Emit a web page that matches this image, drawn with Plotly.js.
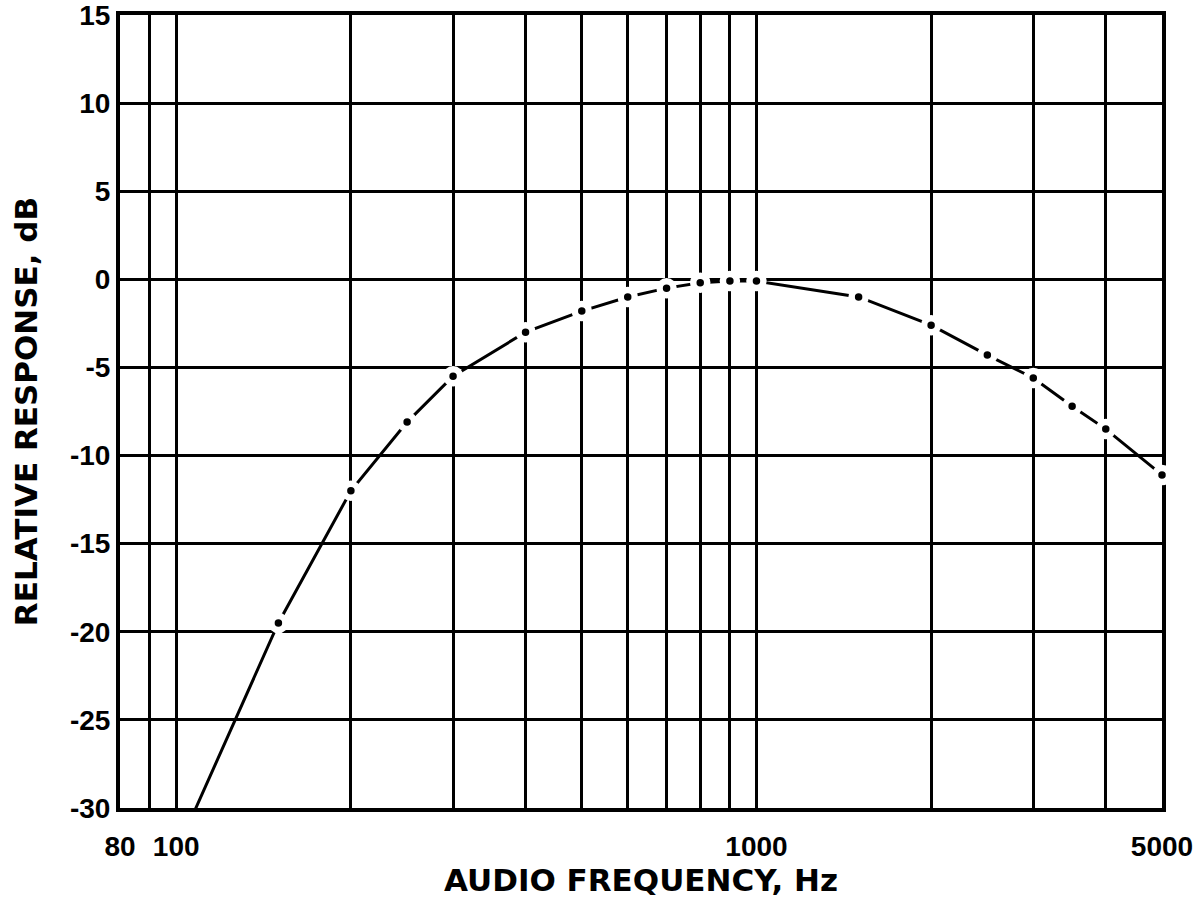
<!DOCTYPE html>
<html>
<head>
<meta charset="utf-8">
<script src="https://cdn.plot.ly/plotly-3.0.1.min.js"></script>
<style>
  html, body { margin: 0; padding: 0; background: #ffffff; }
  #chart { width: 1193px; height: 900px; }
</style>
</head>
<body>
<div id="chart"></div>
<script>
// Data
const frequencyHz = [100, 150, 200, 250, 300, 400, 500, 600, 700, 800, 900, 1000, 1500, 2000, 2500, 3000, 3500, 4000, 5000];
const responseDb  = [-32.5, -19.5, -12.0, -8.1, -5.5, -3.0, -1.8, -1.0, -0.5, -0.2, -0.1, -0.1, -1.0, -2.6, -4.3, -5.6, -7.2, -8.5, -11.1];

// Axis ticks / gridlines
const xGridValues = [80, 90, 100, 200, 300, 400, 500, 600, 700, 800, 900, 1000, 2000, 3000, 4000, 5000];
const xTickLabels = ["80", "", "100", "", "", "", "", "", "", "", "", "1000", "", "", "", "5000"];
const yGridValues = [-30, -25, -20, -15, -10, -5, 0, 5, 10, 15];
const yTickLabels = ["-30", "-25", "-20", "-15", "-10", "-5", "0", "5", "10", "15"];

const xTitle = "AUDIO FREQUENCY, Hz";
const yTitle = "RELATIVE RESPONSE, dB";

// points that fall inside the plotted range get a dot marker
const markerFreq = [], markerDb = [];
for (let i = 0; i < frequencyHz.length; i++) {
  if (responseDb[i] >= -30) { markerFreq.push(frequencyHz[i]); markerDb.push(responseDb[i]); }
}

const ink = "#000000";
const tickFont = { family: "Liberation Sans, Arial, sans-serif", size: 28, color: ink, weight: "bold" };
const titleFont = { family: "DejaVu Sans, sans-serif", size: 31, color: ink, weight: "bold" };

const traces = [
  {
    x: frequencyHz, y: responseDb, type: "scatter", mode: "lines",
    line: { color: ink, width: 3 }, cliponaxis: true, hoverinfo: "skip", showlegend: false
  },
  {
    x: markerFreq, y: markerDb, type: "scatter", mode: "markers",
    marker: { symbol: "circle", size: 14, color: ink, line: { color: "#ffffff", width: 6.5 } },
    cliponaxis: false, hoverinfo: "skip", showlegend: false
  }
];

const layout = {
  width: 1193, height: 900,
  margin: { l: 120, r: 31, t: 15, b: 92, pad: 0 },
  paper_bgcolor: "#ffffff", plot_bgcolor: "#ffffff",
  showlegend: false,
  xaxis: {
    type: "log",
    range: [Math.log10(80), Math.log10(5000)],
    tickmode: "array", tickvals: xGridValues, ticktext: xTickLabels,
    showgrid: true, gridcolor: ink, gridwidth: 3,
    showline: true, linecolor: ink, linewidth: 4, mirror: true,
    ticks: "", ticklabelstandoff: 10, ticklabeloverflow: "allow",
    tickfont: tickFont,
    zeroline: false, layer: "below traces", automargin: false,
    title: { text: xTitle, font: titleFont, standoff: 6 }
  },
  yaxis: {
    range: [-30, 15],
    tickmode: "array", tickvals: yGridValues, ticktext: yTickLabels,
    showgrid: true, gridcolor: ink, gridwidth: 3,
    showline: true, linecolor: ink, linewidth: 4, mirror: true,
    ticks: "", ticklabelstandoff: 0, ticklabeloverflow: "allow",
    tickfont: tickFont,
    zeroline: false, layer: "below traces", automargin: false,
    title: { text: yTitle, font: titleFont, standoff: 24 }
  }
};

Plotly.newPlot("chart", traces, layout, { staticPlot: true, displayModeBar: false });
</script>
</body>
</html>
